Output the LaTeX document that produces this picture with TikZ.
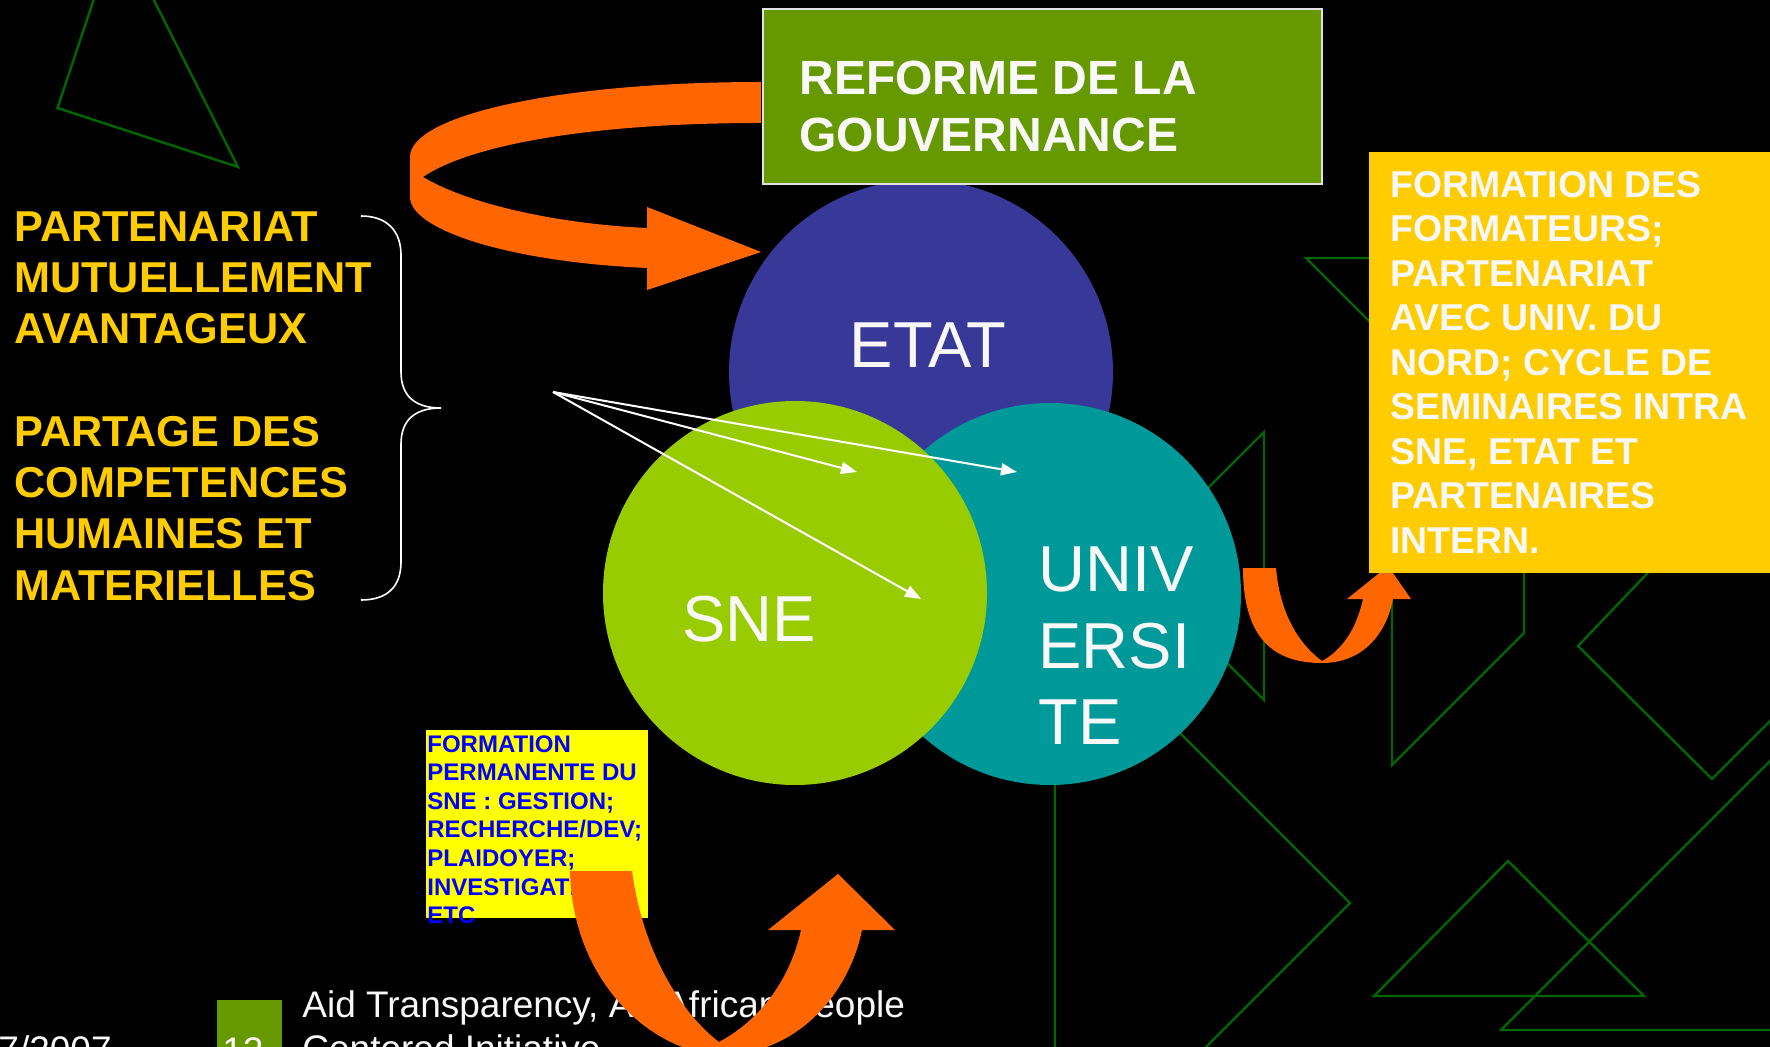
\documentclass[tikz,border=0pt]{standalone}
\usepackage{fontspec}
\setmainfont{Liberation Sans}
\usetikzlibrary{arrows.meta}
\definecolor{bgline}{RGB}{0,102,0}
\definecolor{etatc}{RGB}{56,56,153}
\definecolor{snec}{RGB}{153,204,0}
\definecolor{univc}{RGB}{0,153,153}
\definecolor{orng}{RGB}{255,102,0}
\definecolor{boxgreen}{RGB}{102,153,0}
\definecolor{gold}{RGB}{255,204,0}
\definecolor{lemon}{RGB}{255,255,0}
\definecolor{txtblue}{RGB}{0,0,255}
\definecolor{offwhite}{RGB}{248,248,248}
\definecolor{boxedge}{RGB}{225,225,225}
\begin{document}
\begin{tikzpicture}[x=0.5pt,y=-0.5pt,
  bgln/.style={draw=bgline, line width=1.2pt, line join=miter},
  disc/.style={circle, inner sep=0pt, minimum size=#1},
  lbl/.style={inner sep=0pt, text=offwhite, font=\fontsize{32.5}{38.2}\selectfont},
  panel/.style={anchor=north west, inner sep=0pt},
  para/.style={anchor=north west, align=left, inner sep=0pt},
  ptr/.style={draw=white, line width=1pt, -{Triangle[length=8pt,width=6pt]}},
  bracepath/.style={draw=white, line width=0.8pt},
  band/.style={fill=orng}]
\useasboundingbox (0,0) rectangle (1770,1047);
\fill[black] (0,0) rectangle (1770,1047);

% background green outlines
\begin{scope}
\clip (0,0) rectangle (1770,1047);
\draw[bgln] (117.6,-71.8) -- (57.5,108) -- (238,167) -- cycle;
\draw[bgln] (1264,432) -- (1264,700) -- (1130,566) -- cycle;
\draw[bgln] (1055,608) -- (1350,903) -- (1055,1198) -- cycle;
\draw[bgln] (1420,258) -- (1306,258) -- (1400,352);
\draw[bgln] (1392,560) -- (1392,765) -- (1524,633) -- (1524,560);
\draw[bgln] (1660,560) -- (1578,646) -- (1712,779) -- (1800,691);
\draw[bgln] (1800,731) -- (1501,1030) -- (1800,1030);
\draw[bgln] (1508,861) -- (1374,996) -- (1644,996) -- cycle;
\end{scope}

% circles
\node[disc=192pt, fill=etatc] (etat) at (921,372) {};
\node[disc=191pt, fill=univc] (univ) at (1050,594) {};
\node[disc=192pt, fill=snec] (sne) at (795,593) {};
\node[lbl, anchor=base] (etatlbl) at (928,368) {ETAT};
\node[lbl, anchor=base] (snelbl) at (749,641) {SNE};
\node[lbl, para] (univlbl) at (1038,546.5) {UNIV\\ERSI\\TE};

% top curved arrow
\fill[band] (761,82) .. controls (560,82) and (410,115) .. (410,157) -- (410,197)
  .. controls (410,230) and (510,262) .. (647,268) -- (647,290) -- (761,252) -- (647,207) -- (647,228)
  .. controls (560,224) and (470,205) .. (423,177)
  .. controls (470,145) and (590,123) .. (761,123) -- cycle;

% governance box
\node[panel, draw=boxedge, line width=0.9pt, fill=boxgreen, minimum width=279.5pt, minimum height=87.5pt] (gov) at (762,8) {};
\node[para, text=offwhite, font=\bfseries\fontsize{24}{28.7}\selectfont] (govtxt) at (799,60.5) {REFORME DE LA\\GOUVERNANCE};

% right U arrow
\fill[band] (1243,568) .. controls (1243,640) and (1275,663) .. (1322,663)
  .. controls (1362,663) and (1386,635) .. (1393,599) -- (1411,599) -- (1388,566) -- (1347,599) -- (1363,599)
  .. controls (1356,630) and (1342,650) .. (1322,661)
  .. controls (1300,645) and (1280,615) .. (1276,568) -- cycle;

% formation box
\node[panel, fill=gold, minimum width=210pt, minimum height=210.5pt] (formbox) at (1369,152) {};
\node[para, text=offwhite, font=\bfseries\fontsize{18.7}{22.25}\selectfont] (formtxt) at (1390,170.5)
  {FORMATION DES\\FORMATEURS;\\PARTENARIAT\\AVEC UNIV. DU\\NORD; CYCLE DE\\SEMINAIRES INTRA\\SNE, ETAT ET\\PARTENAIRES\\INTERN.};

% left text and brace
\node[para, text=gold, font=\bfseries\fontsize{21.6}{25.65}\selectfont] (lefttxt) at (14,211)
  {PARTENARIAT\\MUTUELLEMENT\\AVANTAGEUX\\[25.65pt]PARTAGE DES\\COMPETENCES\\HUMAINES ET\\MATERIELLES};
\coordinate (brTop) at (361,216);
\coordinate (brTip) at (441,408);
\coordinate (brBot) at (361,600);
\draw[bracepath] (brTop) .. controls (388,216) and (401,232) .. (401,255) -- (401,372)
  .. controls (401,395) and (414,408) .. (brTip)
  .. controls (414,408) and (401,421) .. (401,444) -- (401,562)
  .. controls (401,586) and (388,600) .. (brBot);

% white pointers
\coordinate (src) at (553,392);
\coordinate (tipA) at (857,472);
\coordinate (tipB) at (1017,472);
\coordinate (tipC) at (921,599);
\draw[ptr] (src) -- (tipA);
\draw[ptr] (src) -- (tipB);
\draw[ptr] (src) -- (tipC);

% small yellow box
\node[panel, fill=lemon, minimum width=111pt, minimum height=94pt] (permbox) at (426,730) {};
\node[para, text=txtblue, font=\bfseries\fontsize{12}{14.3}\selectfont] (permtxt) at (427,735)
  {FORMATION\\PERMANENTE DU\\SNE : GESTION;\\RECHERCHE/DEV;\\PLAIDOYER;\\INVESTIGATION;\\ETC};

% footer
\node[panel, fill=boxgreen, minimum width=32.5pt, minimum height=40pt] (numbox) at (217,1000) {};
\node[anchor=base west, inner sep=0pt, text=offwhite, font=\fontsize{18.5}{22}\selectfont] (numtxt) at (222,1063) {12};
\node[anchor=base east, inner sep=0pt, text=offwhite, font=\fontsize{18.5}{22}\selectfont] (datetxt) at (112,1062) {7/2007};
\node[para, text=offwhite, font=\fontsize{18.5}{22}\selectfont] (foottxt) at (302,990)
  {Aid Transparency, An African People\\Centered Initiative};

% bottom big arrow
\fill[band] (570,871) .. controls (572,980) and (650,1052) .. (720,1055)
  .. controls (800,1055) and (850,990) .. (862,930) -- (895,930) -- (838,874) -- (768,930) -- (801,930)
  .. controls (790,980) and (760,1020) .. (719,1042)
  .. controls (690,1020) and (645,965) .. (632,871) -- cycle;
\end{tikzpicture}
\end{document}
